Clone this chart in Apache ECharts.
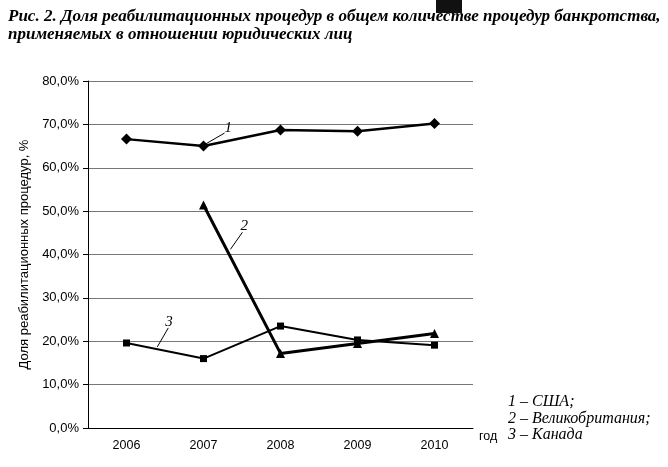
<!DOCTYPE html>
<html><head><meta charset="utf-8">
<script src="https://cdn.jsdelivr.net/npm/echarts@6/dist/echarts.min.js"></script>
<style>html,body{margin:0;padding:0;background:#fff}#c{width:668px;height:467px}</style>
</head><body><div id="c"></div>
<script>
const years = ['2006','2007','2008','2009','2010'];
const usa = [66.6, 65.0, 68.7, 68.4, 70.2];
const uk = [null, 51.4, 17.2, 19.5, 21.8];
const canada = [19.6, 16.0, 23.5, 20.3, 19.1];
const legendLines = ['1 – США;', '2 – Великобритания;', '3 – Канада'];

const chart = echarts.init(document.getElementById('c'), null, {renderer:'canvas'});
const serif = '"Liberation Serif","DejaVu Serif",serif';
const sans = '"Liberation Sans",Arial,sans-serif';
chart.setOption({
  animation:false,
  backgroundColor:'#fff',
  grid:{left:88,right:195,top:81,bottom:39},
  xAxis:{type:'category',data:years,boundaryGap:true,
    axisLine:{lineStyle:{color:'#000',width:1}},
    axisTick:{alignWithLabel:true,length:5,lineStyle:{color:'#000'}},
    axisLabel:{color:'#000',fontFamily:sans,fontSize:12.5,margin:11},
    name:'год',nameLocation:'end',nameGap:6,
    nameTextStyle:{color:'#000',fontFamily:sans,fontSize:12.5,verticalAlign:'top',padding:[2,0,0,0]}},
  yAxis:{type:'value',min:0,max:80,interval:10,
    axisLine:{show:true,lineStyle:{color:'#000',width:1}},
    axisTick:{show:true,length:5,lineStyle:{color:'#000'}},
    splitLine:{lineStyle:{color:'#777',width:1}},
    axisLabel:{color:'#000',fontFamily:sans,fontSize:13,margin:9,
      formatter:v=>v.toFixed(1).replace('.',',')+'%'},
    name:'Доля реабилитационных процедур, %',nameLocation:'middle',nameGap:52,
    nameTextStyle:{color:'#000',fontFamily:sans,fontSize:13}},
  series:[
    {name:'США',type:'line',data:usa,symbol:'diamond',symbolSize:11,
      lineStyle:{color:'#000',width:2.5},itemStyle:{color:'#000'}},
    {name:'Великобритания',type:'line',data:uk,symbol:'triangle',symbolSize:9,
      lineStyle:{color:'#000',width:3},itemStyle:{color:'#000'}},
    {name:'Канада',type:'line',data:canada,symbol:'rect',symbolSize:7,
      lineStyle:{color:'#000',width:2},itemStyle:{color:'#000'}}
  ]
});

// pixel position for a fractional category index and a value
function px(i,v){
  const p0=chart.convertToPixel({gridIndex:0},[0,v]);
  const p1=chart.convertToPixel({gridIndex:0},[1,v]);
  return [p0[0]+(p1[0]-p0[0])*i,p0[1]];
}
const a1=px(1,usa[1]), a2=px(1.35,41.2), a3=px(0.4,18.7);
const g=[
  {type:'text',left:8,top:7,style:{text:'Рис. 2. Доля реабилитационных процедур в общем количестве процедур банкротства,\nприменяемых в отношении юридических лиц',
    font:'italic bold 17px '+serif,fill:'#000',lineHeight:18.5}},
  {type:'rect',shape:{x:436,y:0,width:26,height:13},style:{fill:'#111'}},
  {type:'line',shape:{x1:a1[0]+2,y1:a1[1]-2,x2:a1[0]+21,y2:a1[1]-13},style:{stroke:'#000',lineWidth:1}},
  {type:'text',x:a1[0]+21,y:a1[1]-26,style:{text:'1',font:'italic 15px '+serif,fill:'#000'}},
  {type:'line',shape:{x1:a2[0],y1:a2[1],x2:a2[0]+12,y2:a2[1]-17},style:{stroke:'#000',lineWidth:1}},
  {type:'text',x:a2[0]+10,y:a2[1]-31,style:{text:'2',font:'italic 15px '+serif,fill:'#000'}},
  {type:'line',shape:{x1:a3[0],y1:a3[1],x2:a3[0]+11,y2:a3[1]-19},style:{stroke:'#000',lineWidth:1}},
  {type:'text',x:a3[0]+8,y:a3[1]-32,style:{text:'3',font:'italic 15px '+serif,fill:'#000'}},
  {type:'text',left:508,top:394,style:{text:legendLines.join('\n'),font:'italic 16px '+serif,fill:'#000',lineHeight:16.5}}
];
chart.setOption({graphic:g});
</script></body></html>
